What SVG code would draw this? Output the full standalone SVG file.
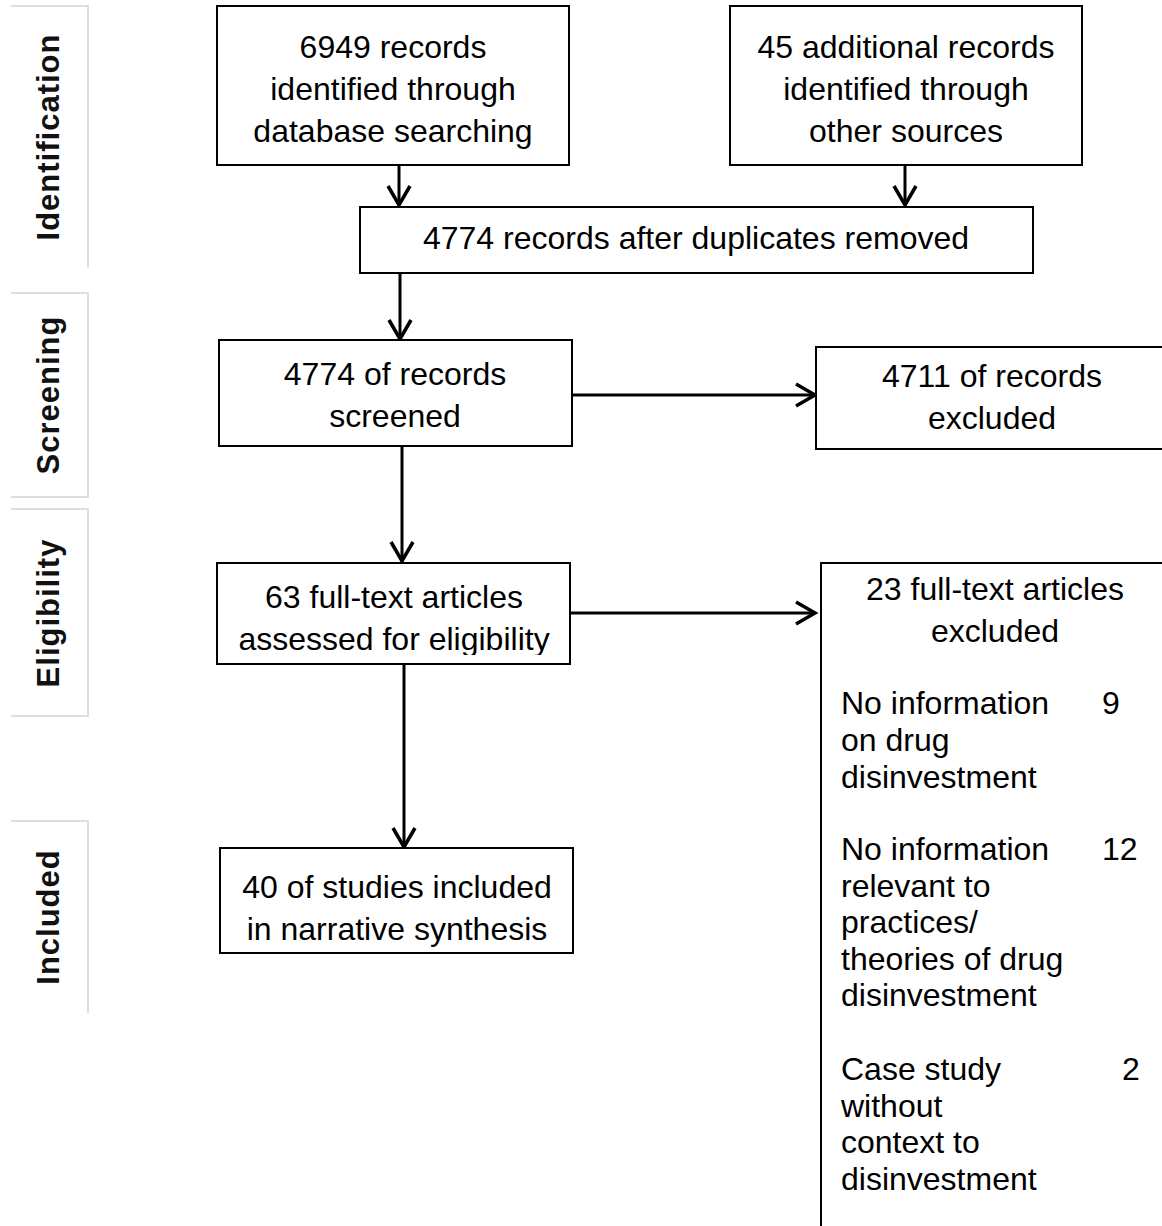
<svg xmlns="http://www.w3.org/2000/svg" width="1162" height="1226" viewBox="0 0 1162 1226">
<style>
.box{fill:#fff;stroke:#000;stroke-width:2}
.t{font-family:"Liberation Sans",Arial,sans-serif;font-size:32px;fill:#000}
.c{text-anchor:middle}
.lbl{font-family:"Liberation Sans",Arial,sans-serif;font-size:31px;font-weight:bold;letter-spacing:1px;text-anchor:middle;fill:#111}
.side{fill:none;stroke:#dedede;stroke-width:2}
.conn line{stroke:#000;stroke-width:3;marker-end:url(#ah)}
</style>
<defs>
<marker id="ah" markerUnits="userSpaceOnUse" markerWidth="26" markerHeight="28" refX="22" refY="13" orient="auto">
<path d="M3,2 L22,13 L3,24" fill="none" stroke="#000" stroke-width="3.5"/>
</marker>
<clipPath id="clipF"><rect x="217" y="563" width="353" height="92"/></clipPath>
</defs>
<rect width="1162" height="1226" fill="#fff"/>

<g id="stage-identification">
<path class="side" d="M11,6 H88 V268"/>
<text class="lbl" transform="translate(59,137) rotate(-90)">Identification</text>
</g>
<g id="stage-screening">
<path class="side" d="M11,293 H88 V497 H11"/>
<text class="lbl" transform="translate(59,395) rotate(-90)">Screening</text>
</g>
<g id="stage-eligibility">
<path class="side" d="M11,509 H88 V716 H11"/>
<text class="lbl" transform="translate(59,613) rotate(-90)">Eligibility</text>
</g>
<g id="stage-included">
<path class="side" d="M11,821 H88 V1013"/>
<text class="lbl" transform="translate(59,917) rotate(-90)">Included</text>
</g>

<g id="connectors" class="conn">
<line x1="399" y1="165" x2="399" y2="205"/>
<line x1="905" y1="165" x2="905" y2="205"/>
<line x1="400" y1="273" x2="400" y2="339"/>
<line x1="572" y1="395" x2="815" y2="395"/>
<line x1="402" y1="447" x2="402" y2="561"/>
<line x1="570" y1="613" x2="815" y2="613"/>
<line x1="404" y1="664" x2="404" y2="847"/>
</g>

<g id="node-db">
<rect class="box" x="217" y="6" width="352" height="159"/>
<text class="t c" x="393" y="58">6949 records</text>
<text class="t c" x="393" y="100">identified through</text>
<text class="t c" x="393" y="142">database searching</text>
</g>
<g id="node-other">
<rect class="box" x="730" y="6" width="352" height="159"/>
<text class="t c" x="906" y="58">45 additional records</text>
<text class="t c" x="906" y="100">identified through</text>
<text class="t c" x="906" y="142">other sources</text>
</g>
<g id="node-dedup">
<rect class="box" x="360" y="207" width="673" height="66"/>
<text class="t c" x="696" y="249">4774 records after duplicates removed</text>
</g>
<g id="node-screened">
<rect class="box" x="219" y="340" width="353" height="106"/>
<text class="t c" x="395" y="385">4774 of records</text>
<text class="t c" x="395" y="427">screened</text>
</g>
<g id="node-excluded">
<rect class="box" x="816" y="347" width="360" height="102"/>
<text class="t c" x="992" y="387">4711 of records</text>
<text class="t c" x="992" y="429">excluded</text>
</g>
<g id="node-fulltext">
<rect class="box" x="217" y="563" width="353" height="101"/>
<g clip-path="url(#clipF)">
<text class="t c" x="394" y="608">63 full-text articles</text>
<text class="t c" x="394" y="650">assessed for eligibility</text>
</g>
</g>
<g id="node-ft-excluded">
<rect class="box" x="821" y="563" width="360" height="700"/>
<text class="t c" x="995" y="600">23 full-text articles</text>
<text class="t c" x="995" y="642">excluded</text>
<text class="t" x="841" y="714">No information</text>
<text class="t" x="1102" y="714">9</text>
<text class="t" x="841" y="751">on drug</text>
<text class="t" x="841" y="788">disinvestment</text>
<text class="t" x="841" y="860">No information</text>
<text class="t" x="1102" y="860">12</text>
<text class="t" x="841" y="897">relevant to</text>
<text class="t" x="841" y="933">practices/</text>
<text class="t" x="841" y="970">theories of drug</text>
<text class="t" x="841" y="1006">disinvestment</text>
<text class="t" x="841" y="1080">Case study</text>
<text class="t" x="1122" y="1080">2</text>
<text class="t" x="841" y="1117">without</text>
<text class="t" x="841" y="1153">context to</text>
<text class="t" x="841" y="1190">disinvestment</text>
</g>
<g id="node-included">
<rect class="box" x="220" y="848" width="353" height="105"/>
<text class="t c" x="397" y="898">40 of studies included</text>
<text class="t c" x="397" y="940">in narrative synthesis</text>
</g>
</svg>
